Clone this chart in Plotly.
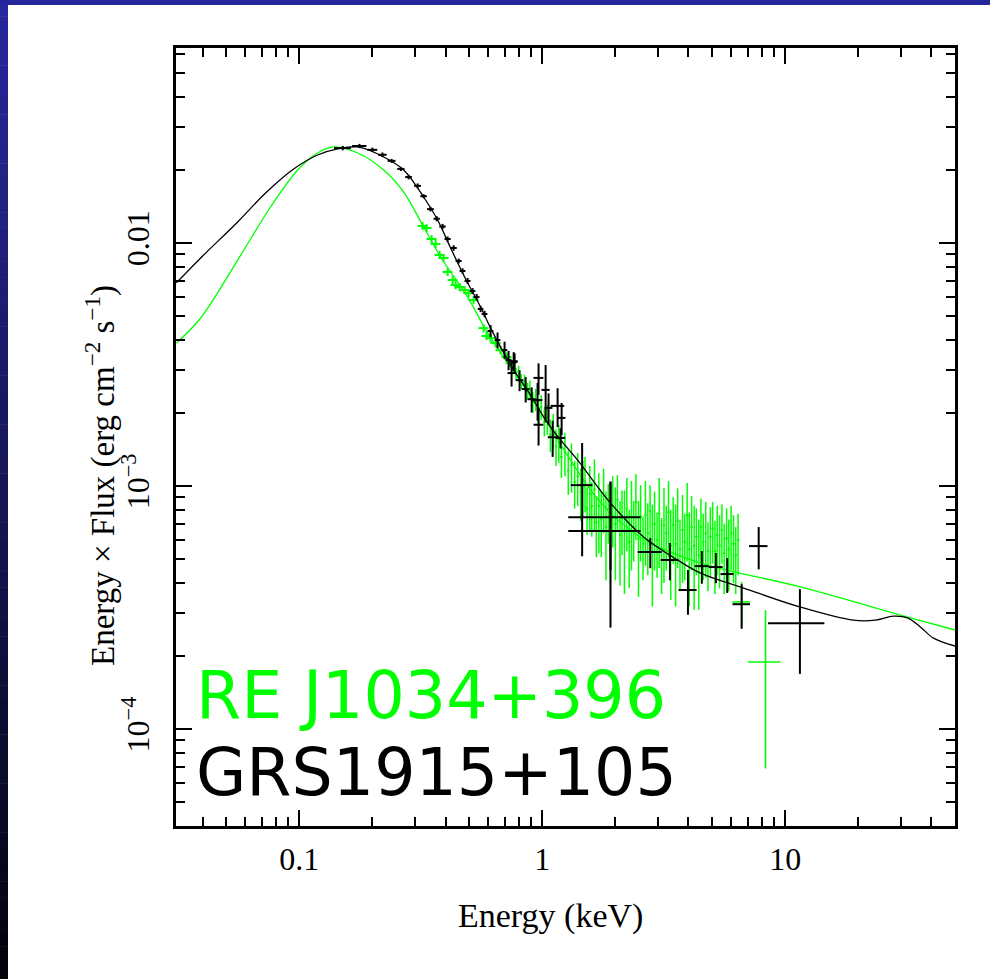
import math
import plotly.graph_objects as go

# ---------------- model curves (E in keV, E*F in erg cm^-2 s^-1) ----------------
grs_model_E = [0.0312, 0.0393, 0.0558, 0.0727, 0.0948, 0.119, 0.1439, 0.1739, 0.2226,
               0.269, 0.325, 0.3711, 0.4198, 0.484, 0.5578, 0.6133, 0.7553, 0.896,
               1.033, 1.19, 1.399, 1.912, 2.614, 3.608, 4.486, 6.743, 11.57, 19.1,
               23.5, 27.9, 31.9, 36.1, 40.8, 50.0]
grs_model_F = [0.00686, 0.00869, 0.01222, 0.01608, 0.02019, 0.02305, 0.0244, 0.02487,
               0.02262, 0.0200, 0.01548, 0.01245, 0.00955, 0.00712, 0.00546, 0.00447,
               0.00306, 0.00237, 0.00187, 0.00155, 0.00128, 0.000852, 0.000618,
               0.000497, 0.000439, 0.000381, 0.000318, 0.000281, 0.000281, 0.000292,
               0.000287, 0.000263, 0.000237, 0.00022]

re_model_E = [0.0312, 0.0393, 0.0558, 0.0762, 0.0985, 0.119, 0.1385, 0.1739, 0.2226,
              0.269, 0.325, 0.382, 0.4932, 0.5962, 0.7412, 0.896, 1.083, 1.309,
              1.582, 1.912, 2.311, 2.793, 4.486, 11.57, 29.8, 50.0]
re_model_F = [0.00388, 0.00492, 0.00852, 0.01408, 0.0200, 0.02349, 0.02487, 0.02349,
              0.0200, 0.01623, 0.01165, 0.00877, 0.0060, 0.00427, 0.00309, 0.00233,
              0.001734, 0.00128, 0.000964, 0.000775, 0.00066, 0.000583, 0.000483,
              0.000385, 0.000295, 0.000256]

# ---------------- GRS 1915+105 data ----------------
grs_soft_E = [0.151, 0.177, 0.200, 0.220, 0.240, 0.262, 0.282, 0.307, 0.325, 0.347,
              0.368, 0.389, 0.408, 0.432, 0.453, 0.470, 0.493, 0.517, 0.537, 0.558,
              0.579, 0.613, 0.655, 0.700, 0.727, 0.770]
grs_soft_dE = [0.012, 0.012, 0.0095, 0.009, 0.009, 0.009, 0.009, 0.010, 0.010, 0.011,
               0.011, 0.012, 0.012, 0.013, 0.013, 0.013, 0.014, 0.014, 0.015, 0.015,
               0.016, 0.017, 0.018, 0.019, 0.020, 0.021]
grs_soft_F = [0.0246, 0.0251, 0.0242, 0.0231, 0.0218, 0.0202, 0.0187, 0.0172, 0.0156,
              0.0138, 0.0126, 0.0117, 0.0104, 0.00955, 0.00844, 0.00768, 0.00699,
              0.00635, 0.00600, 0.00536, 0.00511, 0.00435, 0.00399, 0.00363, 0.00330,
              0.00324]
grs_soft_dF = [0.0005, 0.0005, 0.0005, 0.0005, 0.0004, 0.0004, 0.0004, 0.0004, 0.0003,
               0.0003, 0.0003, 0.0003, 0.00025, 0.00025, 0.0002, 0.0002, 0.0002,
               0.00018, 0.00018, 0.00016, 0.00016, 0.00025, 0.0003, 0.0003, 0.0003,
               0.00028]

grs_mid_E = [0.763, 0.748, 0.807, 0.855, 0.905, 0.966, 0.957, 0.966, 1.033, 1.062,
             1.104, 1.157, 1.202, 1.190]
grs_mid_dE = [0.029, 0.028, 0.030, 0.032, 0.034, 0.045, 0.045, 0.045, 0.040, 0.040,
              0.050, 0.075, 0.045, 0.055]
grs_mid_F = [0.00327, 0.00292, 0.00273, 0.00251, 0.00228, 0.00279, 0.00226, 0.00179,
             0.00249, 0.00210, 0.00159, 0.00214, 0.00191, 0.00158]
grs_mid_dF = [0.00029, 0.00035, 0.00027, 0.00030, 0.00027, 0.00041, 0.00040, 0.00032,
              0.00066, 0.00031, 0.00027, 0.00039, 0.00029, 0.00015]

grs_hard_E = [1.46, 1.91, 1.91, 2.785, 3.355, 3.98, 4.54, 5.185, 5.775, 6.62, 7.78, 11.5]
grs_hard_dE = [0.15, 0.63, 0.63, 0.315, 0.285, 0.34, 0.30, 0.345, 0.355, 0.55, 0.68, 3.0]
grs_hard_F = [0.00101, 0.000746, 0.000654, 0.000536, 0.000497, 0.000374, 0.000469,
              0.000465, 0.000435, 0.000327, 0.000567, 0.000273]
grs_hard_dF = [0.000495, 0.000293, 0.000392, 0.000076, 0.000087, 0.000078, 0.000072,
               0.000066, 0.000071, 0.000068, 0.000112, 0.000104]

# ---------------- RE J1034+396 data ----------------
re_soft_E = [0.322, 0.3345, 0.3506, 0.3642, 0.3783, 0.3929, 0.408, 0.4279, 0.4402,
             0.4572, 0.4794, 0.4979, 0.5219, 0.5738, 0.5904, 0.6133, 0.6432, 0.6742,
             0.7136, 0.7412]
re_soft_F = [0.01176, 0.01154, 0.0104, 0.00992, 0.00894, 0.00869, 0.00761, 0.00705,
             0.00672, 0.0066, 0.00641, 0.00623, 0.00583, 0.00447, 0.00415, 0.00407,
             0.00388, 0.00363, 0.0034, 0.00321]
re_soft_dE = [0.015, 0.016, 0.017, 0.017, 0.018, 0.019, 0.019, 0.020, 0.021, 0.022,
              0.023, 0.024, 0.025, 0.027, 0.028, 0.029, 0.031, 0.032, 0.034, 0.035]
re_soft_dF = [0.00045, 0.00044, 0.0004, 0.00038, 0.00034, 0.00033, 0.00029, 0.00027,
              0.00026, 0.00025, 0.00024, 0.00024, 0.00022, 0.00017, 0.00016, 0.00016,
              0.00016, 0.00015, 0.00015, 0.00014]

re_band_E = [0.76, 0.78, 0.80, 0.82, 0.845, 0.87, 0.89, 0.915, 0.94, 0.965, 0.99, 1.02,
             1.05, 1.08, 1.11, 1.14, 1.17, 1.20, 1.24, 1.28, 1.32, 1.36, 1.40, 1.44,
             1.47,
             1.50, 1.53, 1.57, 1.60, 1.64, 1.67, 1.71, 1.75, 1.79, 1.83, 1.87, 1.91,
             1.95, 2.00, 2.04, 2.09, 2.13, 2.18, 2.23, 2.28, 2.33, 2.38, 2.43, 2.49,
             2.54, 2.60, 2.66, 2.72, 2.78, 2.84, 2.90, 2.97, 3.03, 3.10, 3.17, 3.24,
             3.31, 3.38, 3.46, 3.54, 3.61, 3.69, 3.78, 3.86, 3.95, 4.03, 4.12, 4.22,
             4.31, 4.41, 4.50, 4.60, 4.71, 4.81, 4.92, 5.03, 5.14, 5.25, 5.37, 5.49,
             5.61, 5.74, 5.86, 5.99, 6.13, 6.26, 6.40]
re_band_F = [0.00312, 0.00291, 0.00295, 0.00270, 0.00268, 0.00246, 0.00250, 0.00222,
             0.00228, 0.00204, 0.00212, 0.00184, 0.00190, 0.00163, 0.00170, 0.00146,
             0.00152, 0.00132, 0.00138, 0.00116, 0.00122, 0.00104, 0.00110, 0.00095,
             0.00101,
             0.00105, 0.00081, 0.00093, 0.00083, 0.00097, 0.00071, 0.00083, 0.00073,
             0.00091, 0.00068, 0.00080, 0.00061, 0.00083, 0.00070, 0.00088, 0.00063,
             0.00074, 0.00066, 0.00081, 0.00059, 0.00075, 0.00068, 0.00086, 0.00061,
             0.00075, 0.00058, 0.00076, 0.00064, 0.00079, 0.00058, 0.00070, 0.00060,
             0.00077, 0.00055, 0.00069, 0.00064, 0.00078, 0.00057, 0.00069, 0.00058,
             0.00072, 0.00055, 0.00066, 0.00059, 0.00076, 0.00055, 0.00068, 0.00057,
             0.00062, 0.00052, 0.00068, 0.00059, 0.00064, 0.00054, 0.00062, 0.00067,
             0.00054, 0.00063, 0.00057, 0.00066, 0.00053, 0.00061, 0.00055, 0.00064,
             0.00058, 0.00052, 0.00060]
re_band_dF = [0.00015, 0.00016, 0.00018, 0.00019, 0.00020, 0.00020, 0.00022, 0.00022,
              0.00024, 0.00023, 0.00025, 0.00024, 0.00027, 0.00025, 0.00028, 0.00025,
              0.00027, 0.00024, 0.00028, 0.00024, 0.00028, 0.00023, 0.00027, 0.00023,
              0.00026,
              0.00027, 0.00018, 0.00028, 0.00021, 0.00032, 0.00020, 0.00030, 0.00022,
              0.00027, 0.00027, 0.00022, 0.00021, 0.00027, 0.00029, 0.00023, 0.00024,
              0.00022, 0.00030, 0.00027, 0.00021, 0.00030, 0.00019, 0.00026, 0.00026,
              0.00026, 0.00017, 0.00029, 0.00021, 0.00022, 0.00026, 0.00025, 0.00018,
              0.00031, 0.00019, 0.00029, 0.00019, 0.00027, 0.00023, 0.00021, 0.00026,
              0.00026, 0.00018, 0.00026, 0.00018, 0.00027, 0.00023, 0.00023, 0.00026,
              0.00019, 0.00021, 0.00021, 0.00018, 0.00022, 0.00017, 0.00020, 0.00019,
              0.00018, 0.00020, 0.00019, 0.00018, 0.00017, 0.00020, 0.00018, 0.00019,
              0.00018, 0.00016, 0.00017]
re_band_dE = [round(0.011 * e, 4) for e in re_band_E]

re_hard_E = [6.62, 8.3]
re_hard_dE = [0.55, 1.27]
re_hard_F = [0.000334, 0.000189]
re_hard_dF = [0.00007, 0.00012]

# ---------------- axes ----------------
x_major = [0.1, 1, 10]
x_major_text = ["0.1", "1", "10"]
x_minor = [0.04, 0.05, 0.06, 0.07, 0.08, 0.09, 0.2, 0.3, 0.4, 0.5, 0.6, 0.7, 0.8, 0.9,
           2, 3, 4, 5, 6, 7, 8, 9, 20, 30, 40]
y_major = [1e-4, 1e-3, 1e-2]
y_major_text = ["10<sup>\u22124</sup>", "10<sup>\u22123</sup>", "0.01"]
y_minor = [5e-5, 6e-5, 7e-5, 8e-5, 9e-5, 2e-4, 3e-4, 4e-4, 5e-4, 6e-4, 7e-4, 8e-4, 9e-4,
           2e-3, 3e-3, 4e-3, 5e-3, 6e-3, 7e-3, 8e-3, 9e-3, 0.02, 0.03, 0.04, 0.05, 0.06]

GREEN = "#00ff00"
BLACK = "#000000"


def data_trace(E, dE, F, dF, color, thick):
    return go.Scatter(
        x=E, y=F, mode="markers",
        marker=dict(size=2, color=color),
        error_x=dict(type="data", array=dE, color=color, thickness=thick, width=0),
        error_y=dict(type="data", array=dF, color=color, thickness=thick, width=0),
        showlegend=False, hoverinfo="skip",
    )


fig = go.Figure()
fig.add_trace(go.Scatter(x=re_model_E, y=re_model_F, mode="lines",
                         line=dict(color=GREEN, width=1.3, shape="spline", smoothing=1.0),
                         showlegend=False, hoverinfo="skip"))
fig.add_trace(data_trace(re_band_E, re_band_dE, re_band_F, re_band_dF, GREEN, 1.5))
fig.add_trace(data_trace(re_soft_E, re_soft_dE, re_soft_F, re_soft_dF, GREEN, 2))
fig.add_trace(data_trace(re_hard_E, re_hard_dE, re_hard_F, re_hard_dF, GREEN, 1.6))
fig.add_trace(go.Scatter(x=grs_model_E, y=grs_model_F, mode="lines",
                         line=dict(color=BLACK, width=1.3, shape="spline", smoothing=1.0),
                         showlegend=False, hoverinfo="skip"))
fig.add_trace(data_trace(grs_soft_E, grs_soft_dE, grs_soft_F, grs_soft_dF, BLACK, 2))
fig.add_trace(data_trace(grs_mid_E, grs_mid_dE, grs_mid_F, grs_mid_dF, BLACK, 2))
fig.add_trace(data_trace(grs_hard_E, grs_hard_dE, grs_hard_F, grs_hard_dF, BLACK, 2))

axis_common = dict(
    type="log", showline=True, linewidth=3, linecolor=BLACK, mirror="ticks",
    ticks="inside", ticklen=16, tickwidth=2, tickcolor=BLACK,
    showgrid=False, zeroline=False, tickmode="array",
    tickfont=dict(family="Liberation Serif", size=32, color=BLACK),
)

fig.update_xaxes(**axis_common, range=[math.log10(0.0311), math.log10(50)],
                 tickvals=x_major, ticktext=x_major_text, ticklabelstandoff=3,
                 minor=dict(ticks="inside", ticklen=9, tickwidth=2, tickcolor=BLACK,
                            tickmode="array", tickvals=x_minor, showgrid=False))
fig.update_yaxes(**axis_common, range=[math.log10(4.0e-5), math.log10(0.0635)],
                 tickvals=y_major, ticktext=y_major_text, tickangle=-90,
                 ticklabelstandoff=11,
                 minor=dict(ticks="inside", ticklen=9, tickwidth=2, tickcolor=BLACK,
                            tickmode="array", tickvals=y_minor, showgrid=False))

# slide frame: dark blue strip on the left (graded to black) and along the top
L, R, T, B = 176, 35, 48, 153
W, H = 990, 979
pw, ph = W - L - R, H - T - B


def px_x(px):
    return (px - L) / pw


def px_y(py):
    return (H - B - py) / ph


shapes = []
n_steps = 60
strip_w = 8
for i in range(n_steps):
    t = i / (n_steps - 1)
    r = round(40 * (1 - t) + 3 * t)
    g = round(40 * (1 - t) + 3 * t)
    b = round(158 * (1 - t) + 12 * t)
    y0 = i * H / n_steps
    y1 = (i + 1) * H / n_steps
    shapes.append(dict(type="rect", xref="paper", yref="paper",
                       x0=px_x(0), x1=px_x(strip_w), y0=px_y(y1 + 0.5), y1=px_y(y0),
                       fillcolor=f"rgb({r},{g},{b})", line=dict(width=0), layer="above"))
shapes.append(dict(type="rect", xref="paper", yref="paper",
                   x0=px_x(0), x1=px_x(W), y0=px_y(5), y1=px_y(0),
                   fillcolor="rgb(38,38,156)", line=dict(width=0), layer="above"))

annotations = [
    dict(text="RE J1034+396", xref="paper", yref="paper", x=px_x(194), y=px_y(695),
         xanchor="left", yanchor="middle", showarrow=False,
         font=dict(family="DejaVu Sans", size=65, color=GREEN)),
    dict(text="GRS1915+105", xref="paper", yref="paper", x=px_x(194), y=px_y(772),
         xanchor="left", yanchor="middle", showarrow=False,
         font=dict(family="DejaVu Sans", size=65, color=BLACK)),
    dict(text="Energy (keV)", xref="paper", yref="paper", x=px_x(550), y=px_y(916),
         xanchor="center", yanchor="middle", showarrow=False,
         font=dict(family="Liberation Serif", size=34, color=BLACK)),
    dict(text="Energy \u00d7 Flux (erg cm<sup>\u22122</sup> s<sup>\u22121</sup>)",
         xref="paper", yref="paper", x=px_x(100), y=px_y(476), textangle=-90,
         xanchor="center", yanchor="middle", showarrow=False,
         font=dict(family="Liberation Serif", size=33, color=BLACK)),
]

fig.update_layout(
    width=W, height=H, autosize=False,
    margin=dict(l=L, r=R, t=T, b=B, pad=0),
    paper_bgcolor="white", plot_bgcolor="white",
    shapes=shapes, annotations=annotations, showlegend=False,
)

fig.write_html("out.html")
